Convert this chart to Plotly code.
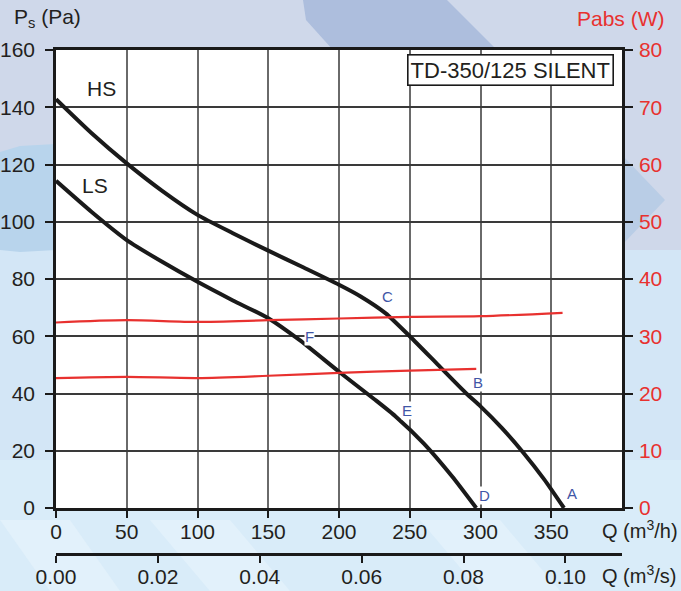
import plotly.graph_objects as go

# ---------------- data ----------------
hs_q = [0, 25, 50, 75, 100, 125, 150, 175, 200, 215, 233, 250, 270, 290, 300, 315, 330, 345, 359]
hs_p = [142.8, 131, 120.4, 110.8, 102.4, 96, 89.9, 84, 78, 74, 68, 60, 50, 40, 35.5, 28, 19.5, 10, 0]

ls_q = [0, 25, 50, 75, 100, 125, 150, 172, 200, 225, 240, 260, 280, 297]
ls_p = [114.3, 103.5, 93.6, 86, 79, 72.5, 66.3, 58.7, 47.6, 38, 32, 22.5, 11, 0]

pabs_hs_q = [0, 50, 100, 150, 200, 250, 300, 358]
pabs_hs_w = [32.4, 32.8, 32.5, 32.8, 33.1, 33.4, 33.5, 34.1]

pabs_ls_q = [0, 50, 100, 150, 200, 250, 297]
pabs_ls_w = [22.7, 22.9, 22.7, 23.1, 23.6, 24.0, 24.3]

x_ticks = [0, 50, 100, 150, 200, 250, 300, 350]
y_ticks = [0, 20, 40, 60, 80, 100, 120, 140, 160]
w_ticks = [0, 10, 20, 30, 40, 50, 60, 70, 80]
qs_ticks = [0.00, 0.02, 0.04, 0.06, 0.08, 0.10]
qs_labels = ["0.00", "0.02", "0.04", "0.06", "0.08", "0.10"]

point_labels = ["A", "B", "C", "D", "E", "F"]
point_q = [365, 298, 234, 303, 248, 179]
point_p = [5.2, 44, 74, 4.5, 34, 60]

# ---------------- layout geometry ----------------
W, H = 681, 591
ML, MR, MT, MB = 56, 59, 50, 20
PW = W - ML - MR
PH = H - MT - MB
PLOT_BOTTOM = 508
Y_DOM0 = (H - MB - PLOT_BOTTOM) / PH
X2_POS = (H - MB - 554) / PH


def px(x):
    return (x - ML) / PW


def py(y):
    return (H - MB - y) / PH


FONT = "Liberation Sans, Arial, sans-serif"
RED = "#e8312f"
BLUE = "#3f56a6"
TXT = "#231f20"

fig = go.Figure()

fig.add_trace(go.Scatter(x=pabs_hs_q, y=pabs_hs_w, yaxis="y2", mode="lines",
                         line=dict(color=RED, width=2.2, shape="spline", smoothing=0.8),
                         hoverinfo="skip", showlegend=False))
fig.add_trace(go.Scatter(x=pabs_ls_q, y=pabs_ls_w, yaxis="y2", mode="lines",
                         line=dict(color=RED, width=2.2, shape="spline", smoothing=0.8),
                         hoverinfo="skip", showlegend=False))
fig.add_trace(go.Scatter(x=hs_q, y=hs_p, mode="lines",
                         line=dict(color="#1a1a1a", width=4, shape="spline", smoothing=0.6),
                         showlegend=False))
fig.add_trace(go.Scatter(x=ls_q, y=ls_p, mode="lines",
                         line=dict(color="#1a1a1a", width=4, shape="spline", smoothing=0.6),
                         showlegend=False))
# invisible trace to activate the m3/s axis
fig.add_trace(go.Scatter(x=[0, 0.1], y=[None, None], xaxis="x2", mode="lines",
                         showlegend=False, hoverinfo="skip"))

# ---------------- background decoration ----------------
shapes = []


def rect(x0, y0, x1, y1, color):
    shapes.append(dict(type="rect", xref="paper", yref="paper",
                       x0=px(x0), x1=px(x1), y0=py(y1), y1=py(y0),
                       fillcolor=color, line=dict(width=0), layer="below"))


def poly(points, color):
    d = "M " + " L ".join(f"{px(a):.4f},{py(b):.4f}" for a, b in points) + " Z"
    shapes.append(dict(type="path", xref="paper", yref="paper", path=d,
                       fillcolor=color, line=dict(width=0), layer="below"))


rect(0, 0, W, 250, "#cfd8ea")
rect(0, 250, W, 460, "#d3e6f6")
poly([(0, 152), (20, 146), (56, 144), (56, 250), (20, 252), (0, 250)], "#b8d4ec")
poly([(622, 155), (665, 200), (622, 245)], "#b9cde6")
poly([(303, 0), (447, 0), (497, 50), (333, 50), (306, 20)], "#adbedd")
# light diagonal stripes at the bottom
poly([(0, 520), (70, 520), (120, 591), (50, 591)], "#e2f1fb")
poly([(150, 520), (230, 520), (290, 591), (210, 591)], "#e2f1fb")
poly([(420, 520), (500, 520), (560, 591), (480, 591)], "#e2f1fb")
# white plot area
rect(ML, MT, W - MR, PLOT_BOTTOM, "#ffffff")

# ---------------- annotations ----------------
ann = []
for t, q, p in zip(point_labels, point_q, point_p):
    ann.append(dict(x=q, y=p, xref="x", yref="y", text=t, showarrow=False,
                    font=dict(family=FONT, size=15, color=BLUE),
                    bgcolor="white", borderpad=0))
ann.append(dict(x=32, y=146.4, xref="x", yref="y", text="HS", showarrow=False,
                font=dict(family=FONT, size=21, color=TXT)))
ann.append(dict(x=27.7, y=112.5, xref="x", yref="y", text="LS", showarrow=False,
                font=dict(family=FONT, size=21, color=TXT)))
ann.append(dict(x=321.3, y=153, xref="x", yref="y", text="TD-350/125 SILENT", showarrow=False,
                font=dict(family=FONT, size=22, color=TXT),
                bgcolor="white", bordercolor="#1a1a1a", borderwidth=1.6, borderpad=2))
ann.append(dict(x=px(12), y=py(18), xref="paper", yref="paper", xanchor="left", yanchor="middle",
                text="P<sub>s</sub> (Pa)", showarrow=False,
                font=dict(family=FONT, size=21, color=TXT)))
ann.append(dict(x=px(621), y=py(18), xref="paper", yref="paper", xanchor="center", yanchor="middle",
                text="Pabs (W)", showarrow=False,
                font=dict(family=FONT, size=21, color=RED)))
ann.append(dict(x=px(600), y=py(529), xref="paper", yref="paper", xanchor="left", yanchor="middle",
                text="Q (m<sup>3</sup>/h)", showarrow=False,
                font=dict(family=FONT, size=20, color=TXT)))
ann.append(dict(x=px(600), y=py(574), xref="paper", yref="paper", xanchor="left", yanchor="middle",
                text="Q (m<sup>3</sup>/s)", showarrow=False,
                font=dict(family=FONT, size=20, color=TXT)))

fig.update_layout(
    width=W, height=H,
    margin=dict(l=ML, r=MR, t=MT, b=MB, autoexpand=False),
    paper_bgcolor="#d9ecf9",
    plot_bgcolor="rgba(0,0,0,0)",
    font=dict(family=FONT, size=21, color=TXT),
    showlegend=False,
    shapes=shapes,
    annotations=ann,
    xaxis=dict(range=[0, 400], tickvals=x_ticks, ticks="outside", ticklen=7, tickwidth=2,
               tickcolor="#1a1a1a", showline=True, linecolor="#1a1a1a", linewidth=3,
               mirror=True, showgrid=True, gridcolor="#6a6a6a", gridwidth=1.5,
               zeroline=False, anchor="y", automargin=False,
               tickfont=dict(family=FONT, size=21, color=TXT), ticklabelstandoff=-4),
    xaxis2=dict(range=[0, 400 / 3600], tickvals=qs_ticks, ticktext=qs_labels, overlaying="x",
                anchor="free", position=X2_POS, side="bottom", ticks="outside", ticklen=7,
                tickwidth=2, tickcolor="#1a1a1a", showline=True, linecolor="#1a1a1a",
                linewidth=2.5, showgrid=False, zeroline=False, automargin=False,
                tickfont=dict(family=FONT, size=21, color=TXT), ticklabelstandoff=-4),
    yaxis=dict(range=[0, 160], tickvals=y_ticks, domain=[Y_DOM0, 1], ticks="outside",
               ticklen=8, tickwidth=2, tickcolor="#1a1a1a", showline=True,
               linecolor="#1a1a1a", linewidth=2.5, showgrid=True, gridcolor="#3a3a3a",
               gridwidth=1.5, zeroline=False, automargin=False,
               tickfont=dict(family=FONT, size=21, color=TXT), ticklabelstandoff=6),
    yaxis2=dict(range=[0, 80], tickvals=w_ticks, overlaying="y", side="right", anchor="x",
                ticks="outside", ticklen=8, tickwidth=2, tickcolor="#1a1a1a", showline=True,
                linecolor="#1a1a1a", linewidth=2.5, showgrid=False, zeroline=False,
                automargin=False,
                tickfont=dict(family=FONT, size=21, color=RED), ticklabelstandoff=2),
)

fig.write_html("out.html", config={"displayModeBar": False},
               post_script="document.body.style.margin='0';document.body.style.padding='0';"
                           "document.body.style.overflow='hidden';")
